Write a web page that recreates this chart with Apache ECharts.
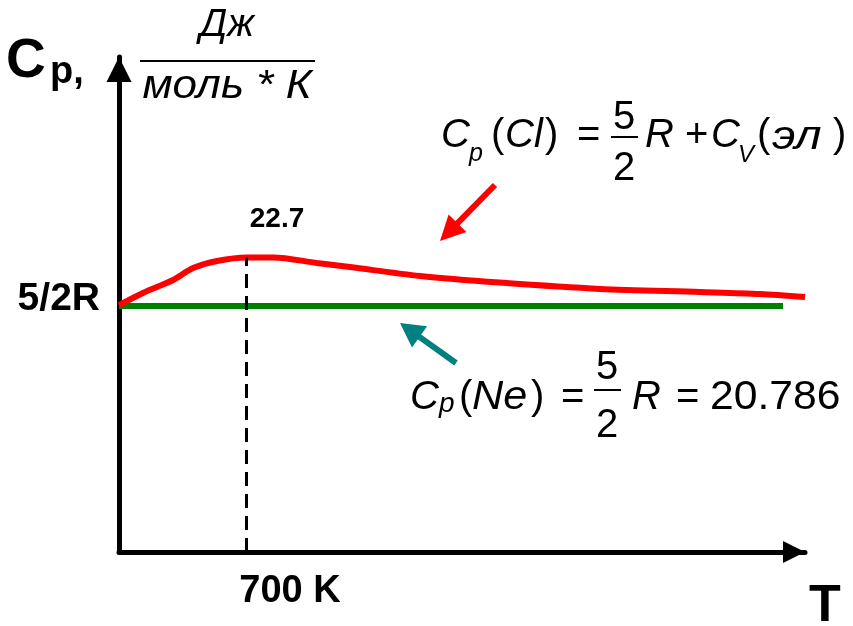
<!DOCTYPE html>
<html><head><meta charset="utf-8">
<script src="https://cdn.jsdelivr.net/npm/echarts@6/dist/echarts.min.js"></script>
<style>html,body{margin:0;padding:0;background:#fff}#c{width:853px;height:626px}</style>
</head><body><div id="c"></div>
<script>
// ---- data ----
const tempCl = [0, 132, 298, 408, 540, 705, 849, 1091, 1273, 1659, 2100, 2651, 3202, 3533, 3781];
const cpCl   = [20.82, 21.30, 21.81, 22.28, 22.56, 22.70, 22.70, 22.48, 22.32, 21.97, 21.71, 21.46, 21.34, 21.26, 21.14];
const tempNe = [0, 3660];
const cpNe   = [20.786, 20.786];
const peakT = 700;
const peakCp = 22.7;
const yTickValues = [20.786];
const yTickLabels = ['5/2R'];
const xTickValues = [700];
const xTickLabels = ['700 K'];
const xAxisName = 'T';
const xMin = 0, xMax = 3781;
const yMin = 11.1, yMax = 30.59;

// ---- rendering ----
const FF = '"Liberation Sans", Arial, sans-serif';
const chart = echarts.init(document.getElementById('c'), null, {renderer: 'canvas'});

function txt(text, x, y, size, opts) {
  opts = opts || {};
  const font = (opts.italic ? 'italic ' : '') + (opts.bold ? 'bold ' : '') + size + 'px ' + FF;
  return {
    type: 'text', x: x, y: y, z: 100, scaleX: opts.sx || 1,
    style: {
      text: text, font: font, fill: opts.color || '#000',
      align: opts.align || 'left', textAlign: opts.align || 'left',
      verticalAlign: 'middle', textVerticalAlign: 'middle'
    }
  };
}
function hline(x1, x2, y, w) {
  return {type: 'line', z: 100, shape: {x1: x1, y1: y, x2: x2, y2: y}, style: {stroke: '#000', lineWidth: w}};
}
function arrow(tail, tip, color, w, headL, headW) {
  const dx = tip[0] - tail[0], dy = tip[1] - tail[1];
  const L = Math.sqrt(dx * dx + dy * dy);
  const ux = dx / L, uy = dy / L;
  const bx = tip[0] - headL * ux, by = tip[1] - headL * uy;
  const px = -uy, py = ux;
  return [
    {type: 'line', z: 100, shape: {x1: tail[0], y1: tail[1], x2: bx + ux, y2: by + uy}, style: {stroke: color, lineWidth: w}},
    {type: 'polygon', z: 100, shape: {points: [tip, [bx + px * headW / 2, by + py * headW / 2], [bx - px * headW / 2, by - py * headW / 2]]}, style: {fill: color}}
  ];
}

const graphics = [
  // Cp, label
  txt('C', 6, 62, 55, {bold: true}),
  txt('p,', 50, 73, 38, {bold: true}),
  // unit fraction
  txt('Дж', 227, 25, 39, {italic: true, align: 'center'}),
  hline(140, 315, 61, 2),
  txt('моль * К', 227, 87, 40, {italic: true, align: 'center', sx: 1.1}),
  // axis name T
  txt(xAxisName, 825, 607, 52, {bold: true, align: 'center'}),
  // formula 1
  txt('C', 441, 136, 40, {italic: true}),
  txt('p', 469, 154, 25, {italic: true}),
  txt('(', 491, 136, 40),
  txt('Cl', 505, 136, 40, {italic: true}),
  txt(')', 545, 136, 40),
  txt('=', 577, 136, 40),
  txt('5', 624, 118, 40, {align: 'center'}),
  hline(611, 638, 137, 2),
  txt('2', 624, 169, 40, {align: 'center'}),
  txt('R', 645, 136, 40, {italic: true}),
  txt('+', 685, 136, 40),
  txt('C', 711, 136, 40, {italic: true}),
  txt('V', 738, 155, 24, {italic: true}),
  txt('(', 757, 136, 40),
  txt('эл', 772, 138, 40, {italic: true, sx: 1.2}),
  txt(')', 833, 136, 40),
  // formula 2
  txt('C', 410, 398, 40, {italic: true}),
  txt('p', 439, 404, 28, {italic: true}),
  txt('(', 459, 398, 40),
  txt('Ne', 472, 398, 40, {italic: true, sx: 1.08}),
  txt(')', 531, 398, 40),
  txt('=', 561, 398, 40),
  txt('5', 607, 368, 40, {align: 'center'}),
  hline(594, 621, 390, 2),
  txt('2', 607, 426, 40, {align: 'center'}),
  txt('R', 632, 398, 40, {italic: true}),
  txt('=', 676, 398, 40),
  txt('20.786', 710, 398, 41, {sx: 1.04})
].concat(
  arrow([495, 185], [440, 241], '#ff0000', 6, 25, 25),
  arrow([456, 363], [400, 323], '#008080', 6, 24, 26)
);

const option = {
  animation: false,
  backgroundColor: '#fff',
  grid: {left: 119, right: 48, top: 57, bottom: 74, containLabel: false},
  xAxis: {
    type: 'value', min: xMin, max: xMax,
    axisLine: {show: true, onZero: false, symbol: ['none', 'triangle'], symbolSize: [22, 22], symbolOffset: [0, -11],
      lineStyle: {color: '#000', width: 5}},
    axisTick: {show: false},
    splitLine: {show: false},
    axisLabel: {
      show: true, customValues: xTickValues, margin: 21,
      formatter: function (v) { const i = xTickValues.indexOf(v); return i >= 0 ? xTickLabels[i] : ''; },
      fontFamily: FF, fontSize: 38, fontWeight: 'bold', color: '#000', padding: [0, 0, 0, 88]
    }
  },
  yAxis: {
    type: 'value', min: yMin, max: yMax,
    axisLine: {show: true, onZero: false, symbol: ['none', 'triangle'], symbolSize: [25, 25], symbolOffset: [0, -12.5],
      lineStyle: {color: '#000', width: 5}},
    axisTick: {show: false},
    splitLine: {show: false},
    axisLabel: {
      show: true, customValues: yTickValues, margin: 19,
      formatter: function (v) { const i = yTickValues.indexOf(v); return i >= 0 ? yTickLabels[i] : ''; },
      fontFamily: FF, fontSize: 39, fontWeight: 'bold', color: '#000',
      verticalAlign: 'bottom', lineHeight: 14
    }
  },
  series: [
    {
      name: 'Cp(Ne)', type: 'line', clip: false, symbol: 'none',
      data: tempNe.map((t, i) => [t, cpNe[i]]),
      lineStyle: {color: '#008000', width: 6}, z: 2
    },
    {
      name: 'Cp(Cl)', type: 'line', clip: false, symbol: 'none', smooth: 0.3,
      data: tempCl.map((t, i) => [t, cpCl[i]]),
      lineStyle: {color: '#ff0000', width: 6}, z: 3,
      markLine: {
        silent: true, symbol: ['none', 'none'], label: {show: false},
        lineStyle: {color: '#000', width: 3, type: [14, 8]},
        data: [[{coord: [peakT, yMin]}, {coord: [peakT, peakCp]}]]
      },
      markPoint: {
        silent: true, symbol: 'circle', symbolSize: 0,
        label: {show: true, position: 'inside', offset: [31, -38], formatter: String(peakCp),
          fontFamily: FF, fontSize: 28, fontWeight: 'bold', color: '#000'},
        data: [{coord: [peakT, peakCp], value: peakCp}]
      }
    }
  ],
  graphic: graphics
};
chart.setOption(option);
</script>
</body></html>
